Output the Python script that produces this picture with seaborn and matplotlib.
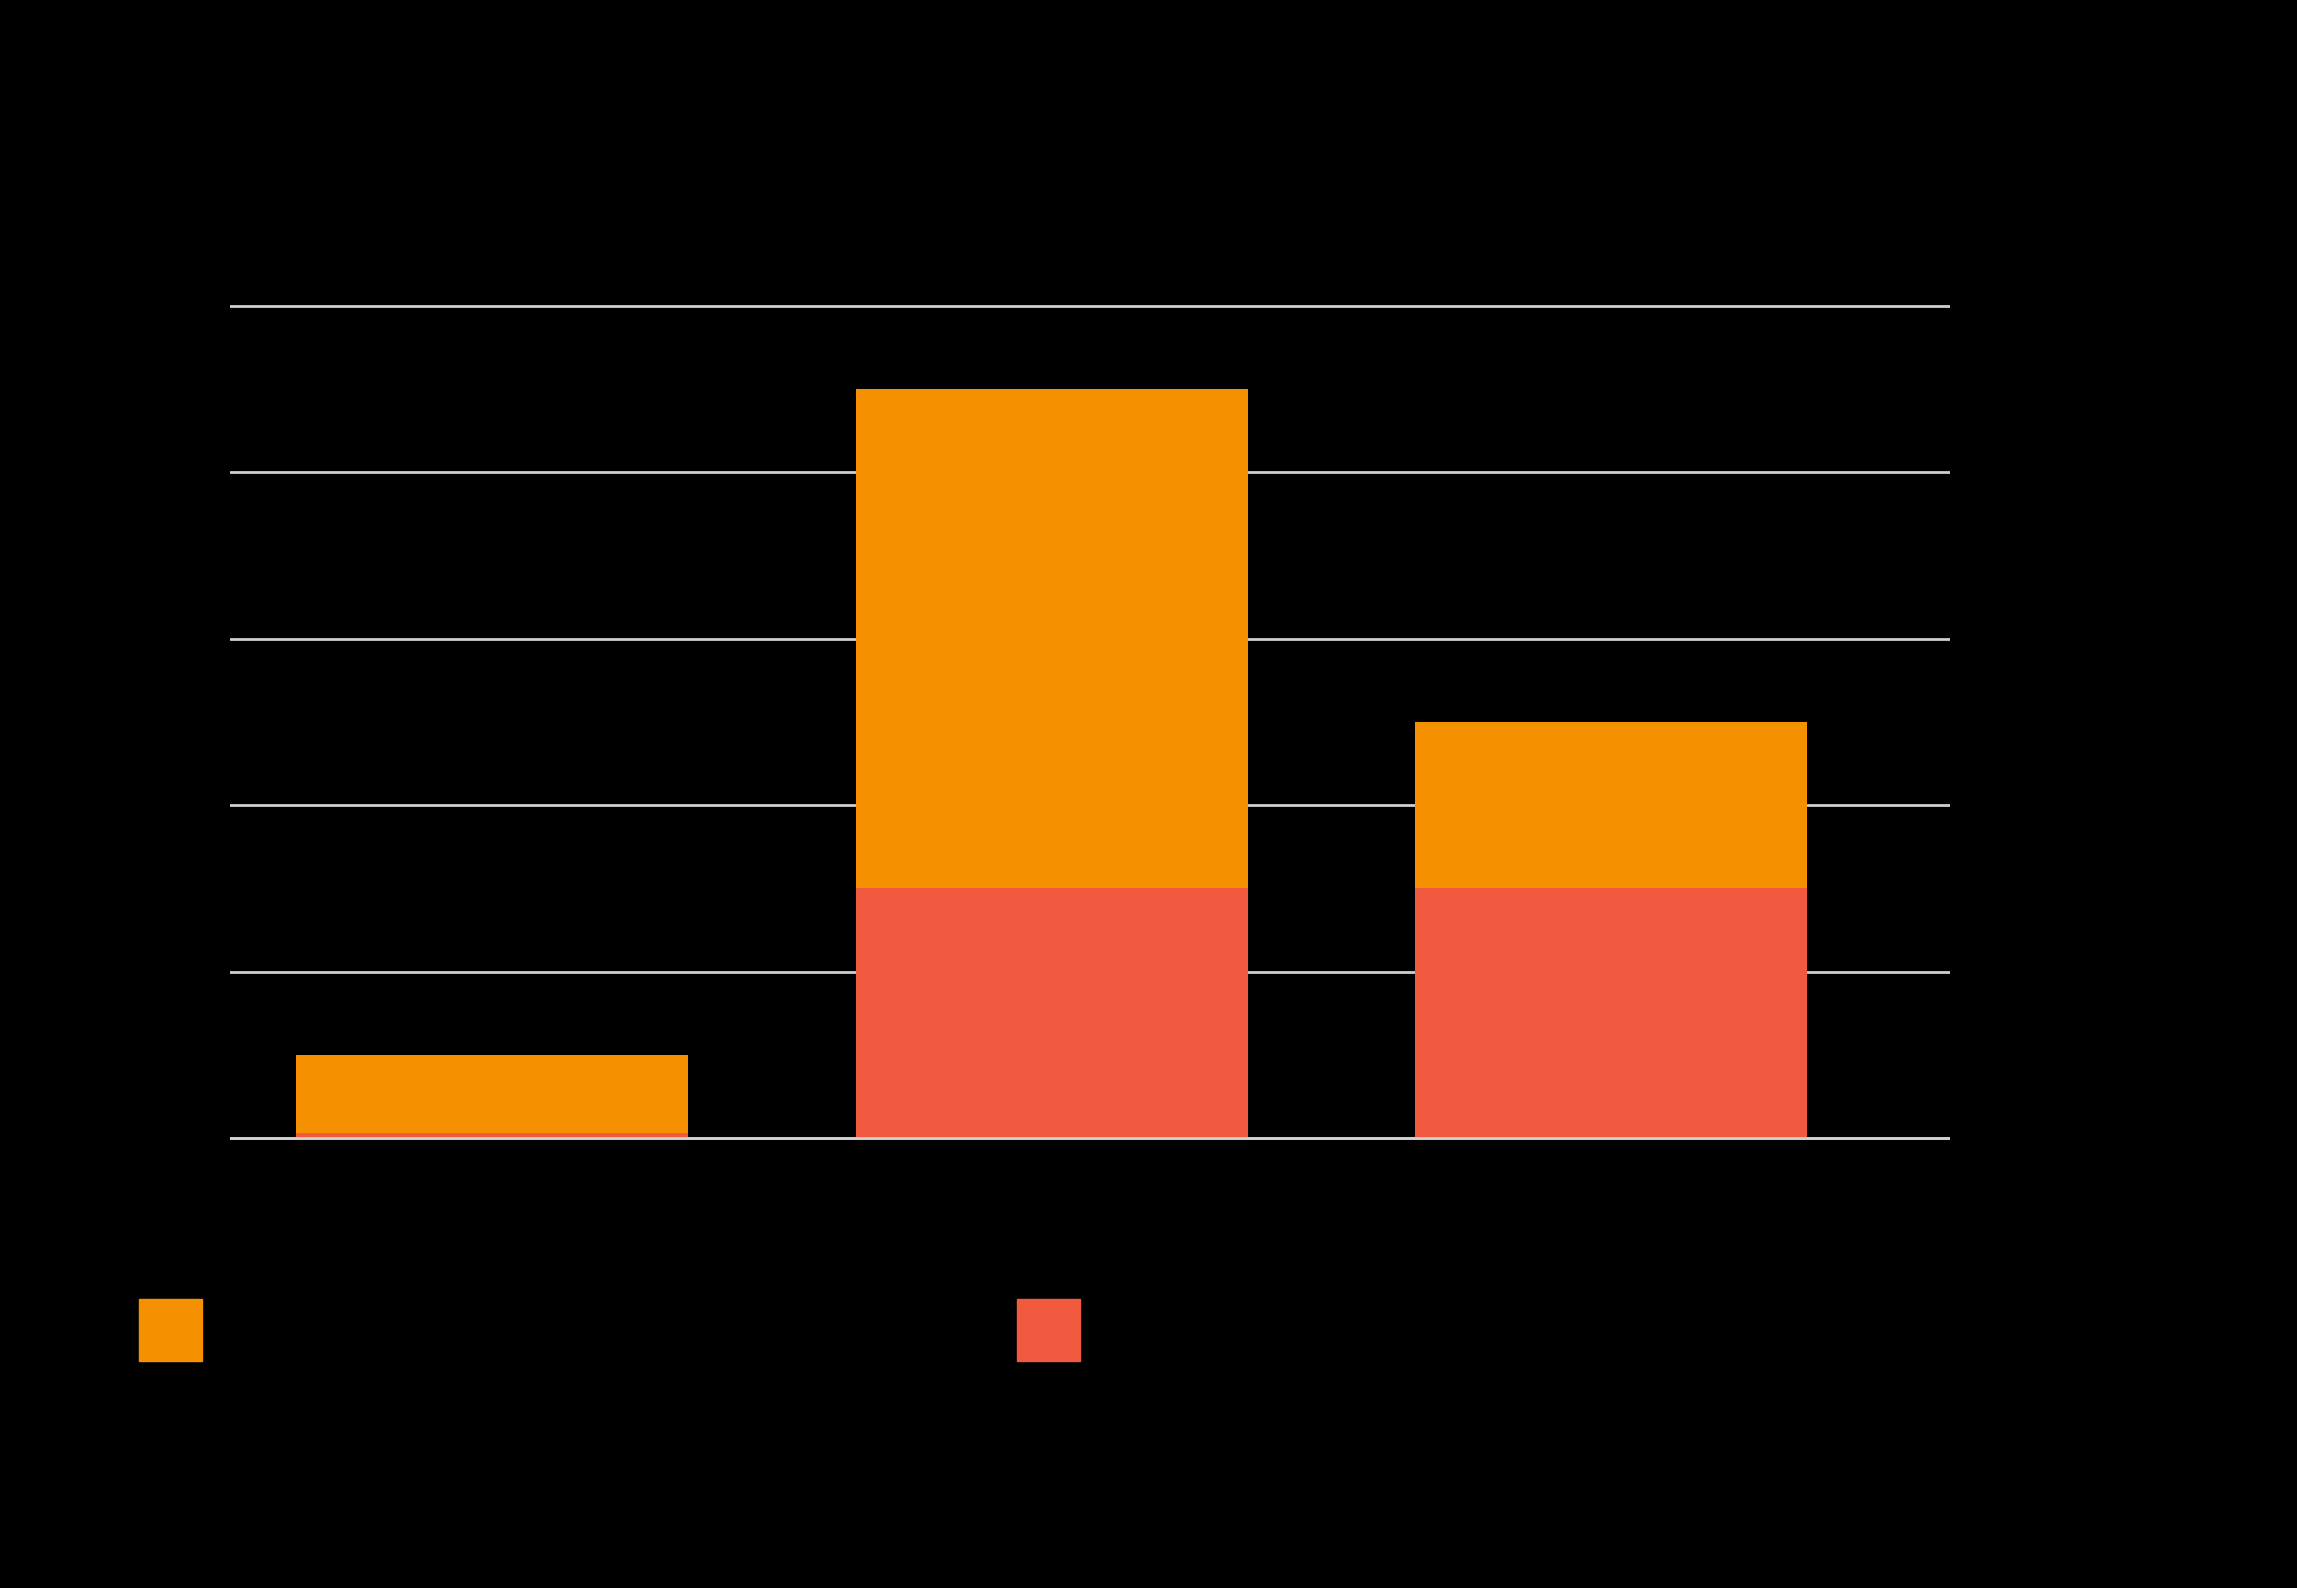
import matplotlib
matplotlib.use("Agg")
import matplotlib.pyplot as plt
import matplotlib.patches as mpatches
import seaborn as sns
import pandas as pd

# Data (text in the reference is black on black; labels are placeholders)
categories = ["Category 1", "Category 2", "Category 3"]
series_bottom = [0.3, 15, 15]      # red segment
series_top = [4.7, 30, 10]         # orange segment
series_names = ["Series 1", "Series 2"]
y_ticks = [0, 10, 20, 30, 40, 50]

ORANGE = "#F59100"
RED = "#F25A40"
GRID = "#CFCFCF"
BG = "#000000"
TXT = "#000000"

sns.set_theme(style="white")
plt.rcParams['font.family'] = ['DejaVu Sans']

df = pd.DataFrame({
    "cat": categories,
    "bottom": series_bottom,
    "total": [b + t for b, t in zip(series_bottom, series_top)],
})

W, H = 2297, 1588
fig = plt.figure(figsize=(W / 100, H / 100), dpi=100, facecolor=BG)
ax = fig.add_axes([230 / W, 0.2729, (1950 - 230) / W, 0.8178 - 0.2729])
ax.set_facecolor(BG)

sns.barplot(data=df, x="cat", y="total", color=ORANGE, width=0.7,
            saturation=1, ax=ax, zorder=2)
sns.barplot(data=df, x="cat", y="bottom", color=RED, width=0.7,
            saturation=1, ax=ax, zorder=3)
for p in ax.patches:
    p.set_edgecolor("none")
    p.set_linewidth(0)

ax.set_xlim(-0.468, 2.605)
ax.set_ylim(-1, 51)
ax.set_yticks(y_ticks)
ax.grid(axis="y", color=GRID, linewidth=2.0, zorder=1)
ax.set_axisbelow(True)
ax.axhline(0, color=GRID, linewidth=2.0, zorder=4)
for s in ax.spines.values():
    s.set_visible(False)
ax.tick_params(axis="both", length=0, colors=TXT, labelsize=20)
ax.set_xlabel("")
ax.set_ylabel("")

# legend entries below the chart
fs = 20
hl = 45.4 / fs
hh = hl * 1.36
leg1 = fig.legend(handles=[mpatches.Patch(color=ORANGE, label=series_names[0])],
                  loc="center left", bbox_to_anchor=(139 / W, 1 - 1330 / H),
                  frameon=False, borderpad=0, borderaxespad=0, fontsize=fs,
                  handlelength=hl, handleheight=hh, labelcolor=TXT)
leg2 = fig.legend(handles=[mpatches.Patch(color=RED, label=series_names[1])],
                  loc="center left", bbox_to_anchor=(1017 / W, 1 - 1330 / H),
                  frameon=False, borderpad=0, borderaxespad=0, fontsize=fs,
                  handlelength=hl, handleheight=hh, labelcolor=TXT)

fig.savefig("out.png", dpi=100, facecolor=BG)
